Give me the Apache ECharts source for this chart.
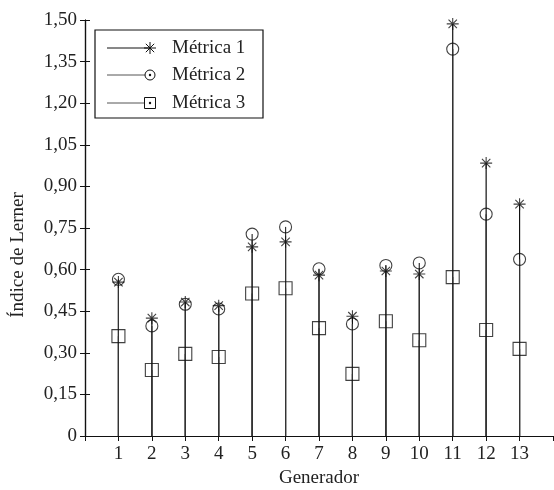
<!DOCTYPE html>
<html><head><meta charset="utf-8">
<script src="https://cdn.jsdelivr.net/npm/echarts@6/dist/echarts.min.js"></script>
<style>html,body{margin:0;padding:0;background:#fff}#c{width:554px;height:490px}</style>
</head><body><div id="c"></div>
<script>
const categories = [1, 2, 3, 4, 5, 6, 7, 8, 9, 10, 11, 12, 13];
const metrica1 = [0.555, 0.425, 0.483, 0.470, 0.682, 0.700, 0.580, 0.432, 0.595, 0.584, 1.486, 0.984, 0.836];
const metrica2 = [0.565, 0.397, 0.475, 0.458, 0.728, 0.754, 0.603, 0.404, 0.615, 0.624, 1.395, 0.800, 0.637];
const metrica3 = [0.360, 0.238, 0.296, 0.285, 0.514, 0.533, 0.389, 0.224, 0.414, 0.345, 0.573, 0.382, 0.314];
const seriesNames = ['Métrica 1', 'Métrica 2', 'Métrica 3'];
const xTitle = 'Generador';
const yTitle = 'Índice de Lerner';

const FONT = '"Liberation Serif", "DejaVu Serif", serif';
const ASTER = 'path://M0,-6L0,6M-6,0L6,0M-4.2,-4.2L4.2,4.2M-4.2,4.2L4.2,-4.2';

function pairs(vals) { return categories.map((c, i) => [c, vals[i]]); }

function stemSeries(vals, color) {
  return {
    type: 'custom', silent: true, z: 2,
    renderItem: function (params, api) {
      const p0 = api.coord([api.value(0), 0]);
      const p1 = api.coord([api.value(0), api.value(1)]);
      return { type: 'line', shape: { x1: p0[0], y1: p0[1], x2: p1[0], y2: p1[1] },
        style: { stroke: color, lineWidth: 1.2 } };
    },
    data: pairs(vals)
  };
}
function markerSeries(vals, symbol, size) {
  return {
    type: 'scatter', z: 3, symbol: symbol, symbolSize: size,
    itemStyle: { color: 'rgba(0,0,0,0)', borderColor: '#111', borderWidth: 1.1 },
    data: pairs(vals)
  };
}

const chart = echarts.init(document.getElementById('c'));
const axisCommon = {
  axisLine: { show: true, lineStyle: { color: '#111', width: 1.2 } },
  axisTick: { show: true, inside: true, length: 5, lineStyle: { color: '#111' } },
  splitLine: { show: false }
};
// legend
const lg = { x: 95, y: 30, w: 168, h: 88 };
const rows = [48, 75, 103];
const legendEls = [
  { type: 'rect', shape: { x: lg.x, y: lg.y, width: lg.w, height: lg.h }, style: { fill: '#fff', stroke: '#111', lineWidth: 1.2 }, z: 10 }
];
const lineColors = ['#111', '#555', '#555'];
rows.forEach((ry, i) => {
  legendEls.push({ type: 'line', shape: { x1: 107, y1: ry, x2: 150, y2: ry }, style: { stroke: lineColors[i], lineWidth: 1 }, z: 11 });
  legendEls.push({ type: 'text', x: 172, y: ry, style: { text: seriesNames[i], verticalAlign: 'middle', font: '19px ' + FONT, fill: '#222' }, z: 11 });
});
[[150, 42, 150, 54], [144, 48, 156, 48], [145.8, 43.8, 154.2, 52.2], [145.8, 52.2, 154.2, 43.8]].forEach(s => {
  legendEls.push({ type: 'line', shape: { x1: s[0], y1: s[1], x2: s[2], y2: s[3] }, style: { stroke: '#111', lineWidth: 1 }, z: 12 });
});
legendEls.push({ type: 'circle', shape: { cx: 150, cy: 75, r: 5 }, style: { stroke: '#111', fill: '#fff', lineWidth: 1 }, z: 12 });
legendEls.push({ type: 'circle', shape: { cx: 150, cy: 75, r: 1.2 }, style: { fill: '#111' }, z: 13 });
legendEls.push({ type: 'rect', shape: { x: 144.5, y: 97.5, width: 11, height: 11 }, style: { stroke: '#111', fill: '#fff', lineWidth: 1 }, z: 12 });
legendEls.push({ type: 'circle', shape: { cx: 150, cy: 103, r: 1.2 }, style: { fill: '#111' }, z: 13 });
legendEls.push({ type: 'text', rotation: Math.PI / 2, x: 18, y: 255,
  style: { text: yTitle, align: 'center', verticalAlign: 'middle', font: '19px ' + FONT, fill: '#222' }, z: 11 });

chart.setOption({
  animation: false,
  backgroundColor: '#fff',
  grid: { left: 85, right: 1, top: 20, bottom: 54, outerBoundsMode: 'none', containLabel: false },
  xAxis: [
    Object.assign({}, axisCommon, {
      type: 'value', min: 0, max: 14, interval: 1, position: 'bottom',
      name: xTitle, nameLocation: 'middle', nameGap: 33,
      nameTextStyle: { fontFamily: FONT, fontSize: 19, color: '#222' },
      axisTick: { show: false },
      axisLabel: { fontFamily: FONT, fontSize: 19, color: '#222', margin: 9,
        formatter: v => (categories.indexOf(v) >= 0 ? String(v) : '') }
    }),
    Object.assign({}, axisCommon, {
      type: 'value', min: 0, max: 14, interval: 1, position: 'top',
      axisLabel: { show: false }
    })
  ],
  yAxis: [
    Object.assign({}, axisCommon, {
      type: 'value', min: 0, max: 1.5, interval: 0.15, position: 'left',
      axisLabel: { fontFamily: FONT, fontSize: 19, color: '#222', margin: 8,
        formatter: v => (Math.abs(v) < 1e-9 ? '0' : v.toFixed(2).replace('.', ',')) }
    }),
    Object.assign({}, axisCommon, {
      type: 'value', min: 0, max: 1.5, interval: 0.15, position: 'right',
      axisLabel: { show: false }
    })
  ],
  graphic: legendEls,
  series: [
    stemSeries(metrica1, '#111'),
    stemSeries(metrica2, '#333'),
    stemSeries(metrica3, '#333'),
    markerSeries(metrica1, ASTER, 12),
    markerSeries(metrica2, 'circle', 12),
    markerSeries(metrica3, 'rect', 13)
  ]
});
</script></body></html>
